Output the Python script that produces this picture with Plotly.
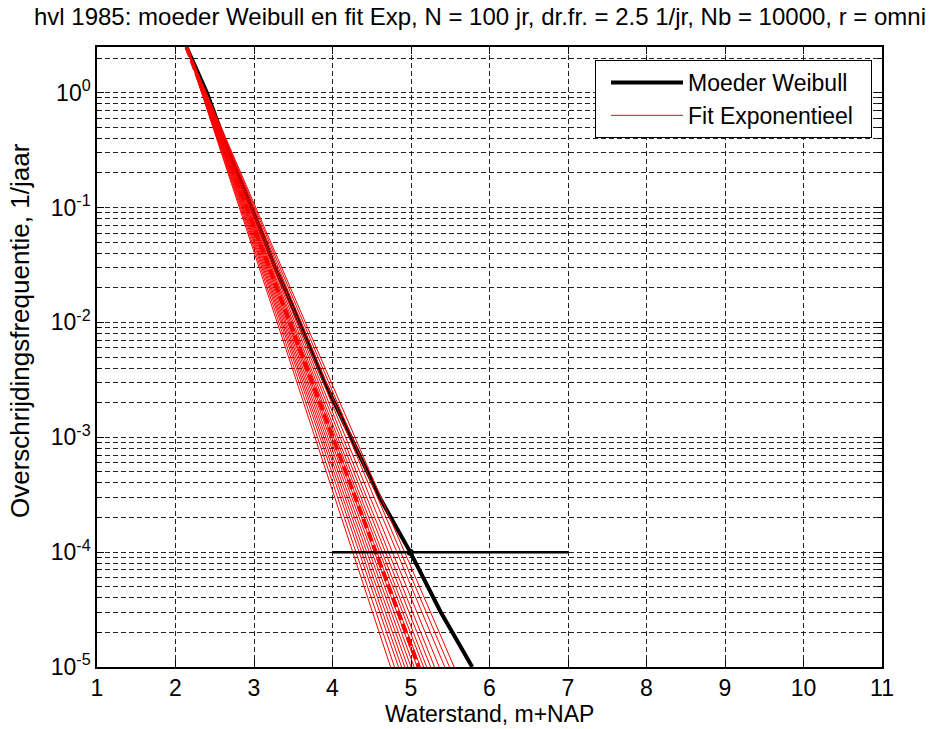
import plotly.graph_objects as go

# ---------------- data ----------------
# Moeder Weibull: waterstand (m+NAP) vs overschrijdingsfrequentie (1/jaar)
weibull_x = [2.14, 2.40, 2.68, 2.97, 3.27, 3.58, 3.90, 4.23, 4.60, 4.99, 5.38, 5.78]
weibull_f = [2.5, 1.0, 0.3, 0.1, 0.03, 0.01, 0.003, 0.001, 3e-4, 1e-4, 3e-5, 1e-5]

# Fit Exponentieel: each fitted line starts at the threshold (frequency 2.5)
fit_start_x = 2.14
fit_start_f = 2.5
fit_end_f = 1e-5
fit_end_x = [4.74, 4.79, 4.84, 4.88, 4.92, 4.96, 5.00, 5.04, 5.08, 5.12,
             5.16, 5.20, 5.25, 5.30, 5.36, 5.43, 5.49, 5.55]
fit_median_end_x = 5.10

# Reference line at frequency 1e-4
ref_x = [4.0, 7.0]
ref_f = [1e-4, 1e-4]
ref_point_x = [4.99]
ref_point_f = [1e-4]

x_ticks = [1, 2, 3, 4, 5, 6, 7, 8, 9, 10, 11]
y_ticks = [1e-5, 1e-4, 1e-3, 1e-2, 1e-1, 1e0]
y_ticktext = ["10<sup>-5</sup>", "10<sup>-4</sup>", "10<sup>-3</sup>",
              "10<sup>-2</sup>", "10<sup>-1</sup>", "10<sup>0</sup>"]
y_minor = [m * 10.0 ** k for k in range(-5, 1) for m in range(2, 10) if m * 10.0 ** k <= 2.5]

title_text = "hvl 1985: moeder Weibull en fit Exp, N = 100 jr, dr.fr. = 2.5 1/jr, Nb = 10000, r = omni"
x_title = "Waterstand, m+NAP"
y_title = "Overschrijdingsfrequentie, 1/jaar"

FONT = "Liberation Sans, Arial, sans-serif"
NB = "\u00a0"

fig = go.Figure()

fig.add_trace(go.Scatter(x=weibull_x, y=weibull_f, mode="lines",
                         line=dict(color="black", width=4),
                         name="Moeder Weibull" + NB * 2))

for i, xe in enumerate(fit_end_x):
    fig.add_trace(go.Scatter(x=[fit_start_x, xe], y=[fit_start_f, fit_end_f], mode="lines",
                             line=dict(color="#ff0000", width=1),
                             name="Fit Exponentieel" + NB * 2, showlegend=(i == 0)))

fig.add_trace(go.Scatter(x=[fit_start_x, fit_median_end_x], y=[fit_start_f, fit_end_f], mode="lines",
                         line=dict(color="#ff0000", width=4, dash="10px,4px"),
                         showlegend=False))

fig.add_trace(go.Scatter(x=ref_x, y=ref_f, mode="lines",
                         line=dict(color="black", width=2.5), showlegend=False))
fig.add_trace(go.Scatter(x=ref_point_x, y=ref_point_f, mode="markers",
                         marker=dict(color="black", size=7), showlegend=False))

grid_dash = "5px,3px"
GRID = "#222222"

fig.update_layout(
    width=931, height=729,
    margin=dict(l=97, r=49, t=47, b=62),
    paper_bgcolor="white", plot_bgcolor="white",
    font=dict(family=FONT, size=23, color="black"),
    title=dict(text=title_text, x=480 / 931, xanchor="center", y=1 - 17 / 729, yanchor="middle",
               yref="container", font=dict(family=FONT, size=24, color="black")),
    showlegend=True,
    legend=dict(x=1 - 10 / 785, xanchor="right", y=1 - 13 / 620, yanchor="top",
                bgcolor="white", bordercolor="black", borderwidth=1,
                font=dict(family=FONT, size=23, color="black"),
                itemwidth=72, tracegroupgap=0, indentation=10),
    xaxis=dict(range=[1, 11], tickmode="array", tickvals=x_ticks,
               showgrid=True, gridcolor=GRID, griddash=grid_dash, gridwidth=1,
               zeroline=False, showline=True, linecolor="black", linewidth=1.5, mirror="ticks",
               ticks="inside", ticklen=7, tickcolor="black", tickfont=dict(size=23)),
    yaxis=dict(type="log", range=[-5, 0.39794], tickmode="array", tickvals=y_ticks, ticktext=y_ticktext,
               showgrid=True, gridcolor=GRID, griddash=grid_dash, gridwidth=1,
               zeroline=False, showline=True, linecolor="black", linewidth=1.5, mirror="ticks",
               ticks="inside", ticklen=7, tickcolor="black", tickfont=dict(size=23),
               minor=dict(tickmode="array", tickvals=y_minor, showgrid=True, gridcolor=GRID,
                          griddash=grid_dash, gridwidth=1, ticks="inside", ticklen=4, tickcolor="black")),
    annotations=[
        dict(text=x_title, xref="paper", yref="paper", x=0.5, y=-(714 - 667) / 620,
             xanchor="center", yanchor="middle", showarrow=False, font=dict(family=FONT, size=23)),
        dict(text=y_title, xref="paper", yref="paper", x=-(97 - 20) / 785, y=0.5 + (357 - 331) / 620,
             xanchor="center", yanchor="middle", textangle=-90, showarrow=False,
             font=dict(family=FONT, size=26)),
    ],
)

fig.write_html("out.html")
